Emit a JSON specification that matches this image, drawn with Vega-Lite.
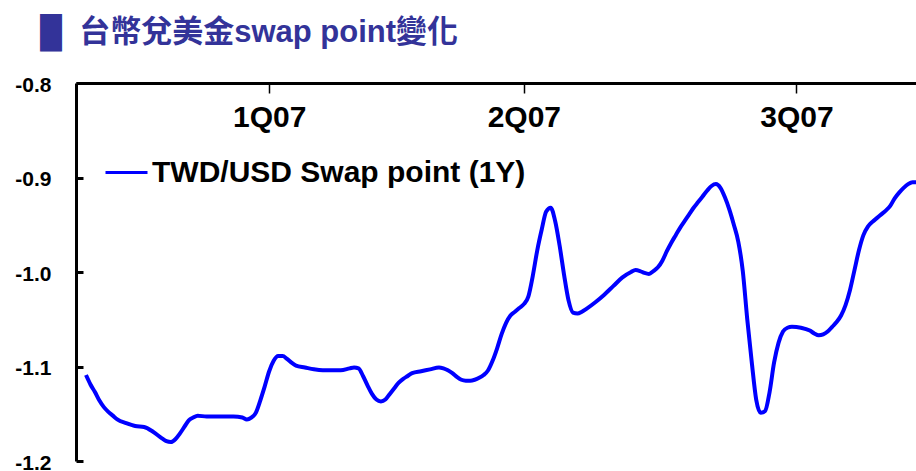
{
  "$schema": "https://vega.github.io/schema/vega-lite/v6.json",
  "width": 840,
  "height": 378,
  "autosize": {"type": "none"},
  "padding": {"left": 76, "top": 83, "right": 0, "bottom": 10},
  "background": "white",
  "title": {
    "text": "█\u00a0\u00a0台幣兌美金swap point變化",
    "anchor": "start",
    "frame": "group",
    "font": "Liberation Sans, DejaVu Sans, Noto Sans CJK TC",
    "fontSize": 31,
    "fontWeight": "bold",
    "color": "#333399",
    "dx": -36,
    "dy": 37,
    "offset": 38,
    "baseline": "alphabetic"
  },
  "data": {
    "values": [
      {"day": 0, "value": -1.109}, {"day": 1, "value": -1.119}, {"day": 2, "value": -1.127}, {"day": 3, "value": -1.136},
      {"day": 4, "value": -1.143}, {"day": 5, "value": -1.148}, {"day": 6, "value": -1.152}, {"day": 7, "value": -1.156},
      {"day": 9, "value": -1.160}, {"day": 11, "value": -1.163}, {"day": 13, "value": -1.164}, {"day": 15, "value": -1.169},
      {"day": 17, "value": -1.176}, {"day": 18, "value": -1.179}, {"day": 19, "value": -1.180}, {"day": 20, "value": -1.177},
      {"day": 21, "value": -1.171}, {"day": 22, "value": -1.164}, {"day": 23, "value": -1.157}, {"day": 24, "value": -1.154},
      {"day": 25, "value": -1.152}, {"day": 27, "value": -1.153}, {"day": 30, "value": -1.153}, {"day": 33, "value": -1.153},
      {"day": 35, "value": -1.154}, {"day": 36, "value": -1.156}, {"day": 37, "value": -1.154}, {"day": 38, "value": -1.149},
      {"day": 39, "value": -1.136}, {"day": 40, "value": -1.121}, {"day": 41, "value": -1.105}, {"day": 42, "value": -1.094},
      {"day": 43, "value": -1.089}, {"day": 44, "value": -1.089}, {"day": 45, "value": -1.092}, {"day": 46, "value": -1.096},
      {"day": 47, "value": -1.099}, {"day": 49, "value": -1.101}, {"day": 51, "value": -1.103}, {"day": 53, "value": -1.104},
      {"day": 55, "value": -1.104}, {"day": 57, "value": -1.104}, {"day": 59, "value": -1.102}, {"day": 60, "value": -1.101},
      {"day": 61, "value": -1.102}, {"day": 62, "value": -1.110}, {"day": 63, "value": -1.120}, {"day": 64, "value": -1.129},
      {"day": 65, "value": -1.135}, {"day": 66, "value": -1.137}, {"day": 67, "value": -1.135}, {"day": 68, "value": -1.129},
      {"day": 69, "value": -1.123}, {"day": 70, "value": -1.117}, {"day": 71, "value": -1.113}, {"day": 72, "value": -1.110},
      {"day": 73, "value": -1.107}, {"day": 75, "value": -1.105}, {"day": 77, "value": -1.103}, {"day": 79, "value": -1.101},
      {"day": 80, "value": -1.102}, {"day": 81, "value": -1.104}, {"day": 82, "value": -1.107}, {"day": 83, "value": -1.111},
      {"day": 84, "value": -1.114}, {"day": 85, "value": -1.115}, {"day": 86, "value": -1.115}, {"day": 87, "value": -1.114},
      {"day": 88, "value": -1.112}, {"day": 89, "value": -1.109}, {"day": 90, "value": -1.104}, {"day": 91, "value": -1.094},
      {"day": 92, "value": -1.081}, {"day": 93, "value": -1.066}, {"day": 94, "value": -1.054}, {"day": 95, "value": -1.046},
      {"day": 96, "value": -1.042}, {"day": 97, "value": -1.038}, {"day": 98, "value": -1.034}, {"day": 99, "value": -1.026},
      {"day": 100, "value": -1.004}, {"day": 101, "value": -0.977}, {"day": 102, "value": -0.955}, {"day": 103, "value": -0.936},
      {"day": 104, "value": -0.932}, {"day": 105, "value": -0.946}, {"day": 106, "value": -0.972}, {"day": 107, "value": -1.003},
      {"day": 108, "value": -1.030}, {"day": 109, "value": -1.043}, {"day": 110, "value": -1.044}, {"day": 111, "value": -1.042},
      {"day": 112, "value": -1.039}, {"day": 114, "value": -1.032}, {"day": 116, "value": -1.024}, {"day": 118, "value": -1.015},
      {"day": 120, "value": -1.006}, {"day": 122, "value": -1.000}, {"day": 123, "value": -0.998}, {"day": 124, "value": -0.999},
      {"day": 125, "value": -1.001}, {"day": 126, "value": -1.002}, {"day": 127, "value": -0.999}, {"day": 128, "value": -0.995},
      {"day": 129, "value": -0.988}, {"day": 130, "value": -0.978}, {"day": 131, "value": -0.969}, {"day": 132, "value": -0.961},
      {"day": 133, "value": -0.953}, {"day": 134, "value": -0.946}, {"day": 135, "value": -0.939}, {"day": 136, "value": -0.932},
      {"day": 137, "value": -0.926}, {"day": 138, "value": -0.920}, {"day": 139, "value": -0.914}, {"day": 140, "value": -0.909},
      {"day": 141, "value": -0.907}, {"day": 142, "value": -0.911}, {"day": 143, "value": -0.921}, {"day": 144, "value": -0.934},
      {"day": 145, "value": -0.950}, {"day": 146, "value": -0.968}, {"day": 147, "value": -0.999}, {"day": 148, "value": -1.050},
      {"day": 149, "value": -1.095}, {"day": 150, "value": -1.135}, {"day": 151, "value": -1.149}, {"day": 152, "value": -1.147},
      {"day": 153, "value": -1.127}, {"day": 154, "value": -1.096}, {"day": 155, "value": -1.075}, {"day": 156, "value": -1.063},
      {"day": 157, "value": -1.059}, {"day": 158, "value": -1.058}, {"day": 160, "value": -1.059}, {"day": 162, "value": -1.062},
      {"day": 163, "value": -1.065}, {"day": 164, "value": -1.067}, {"day": 165, "value": -1.066}, {"day": 166, "value": -1.063},
      {"day": 167, "value": -1.058}, {"day": 168, "value": -1.053}, {"day": 169, "value": -1.046}, {"day": 170, "value": -1.035},
      {"day": 171, "value": -1.019}, {"day": 172, "value": -0.998}, {"day": 173, "value": -0.977}, {"day": 174, "value": -0.961},
      {"day": 175, "value": -0.952}, {"day": 176, "value": -0.947}, {"day": 177, "value": -0.943}, {"day": 178, "value": -0.939},
      {"day": 179, "value": -0.935}, {"day": 180, "value": -0.930}, {"day": 181, "value": -0.922}, {"day": 182, "value": -0.916},
      {"day": 183, "value": -0.911}, {"day": 184, "value": -0.907}, {"day": 185, "value": -0.905}, {"day": 186, "value": -0.905}
    ]
  },
  "mark": {"type": "line", "strokeWidth": 4, "interpolate": "monotone", "clip": true},
  "encoding": {
    "x": {
      "field": "day",
      "type": "quantitative",
      "scale": {"domain": [-2.24, 185.77], "nice": false, "zero": false},
      "axis": {
        "orient": "top",
        "values": [41, 98, 159],
        "labelExpr": "datum.value == 41 ? '1Q07' : datum.value == 98 ? '2Q07' : '3Q07'",
        "title": null,
        "grid": false,
        "domainColor": "black",
        "domainWidth": 3,
        "tickColor": "black",
        "tickWidth": 1.5,
        "tickSize": -10,
        "labelFont": "Liberation Sans",
        "labelFontSize": 30,
        "labelFontWeight": "bold",
        "labelColor": "black",
        "labelBaseline": "alphabetic",
        "labelPadding": -33,
        "labelFlush": false,
        "labelOverlap": false
      }
    },
    "y": {
      "field": "value",
      "type": "quantitative",
      "scale": {"domain": [-1.2, -0.8], "nice": false, "zero": false},
      "axis": {
        "values": [-1.2, -1.1, -1.0, -0.9, -0.8],
        "labelExpr": "datum.value == -1 ? '-1.0' : '' + datum.value",
        "title": null,
        "grid": false,
        "domainColor": "black",
        "domainWidth": 3,
        "tickColor": "black",
        "tickWidth": 3,
        "tickSize": -7,
        "labelFont": "Liberation Sans",
        "labelFontSize": 21,
        "labelFontWeight": "bold",
        "labelColor": "black",
        "labelPadding": 32,
        "labelOffset": 2,
        "labelFlush": false,
        "labelOverlap": false
      }
    },
    "color": {
      "datum": "TWD/USD Swap point (1Y)",
      "type": "nominal",
      "scale": {"range": ["#0000FF"]},
      "legend": {
        "orient": "none",
        "legendX": 28,
        "legendY": 67,
        "title": null,
        "padding": 0,
        "symbolType": "stroke",
        "symbolSize": 1764,
        "symbolStrokeWidth": 3,
        "labelFont": "Liberation Sans",
        "labelFontSize": 30,
        "labelFontWeight": "bold",
        "labelColor": "black",
        "labelOffset": 3,
        "labelLimit": 0
      }
    }
  },
  "config": {"view": {"stroke": null}}
}
